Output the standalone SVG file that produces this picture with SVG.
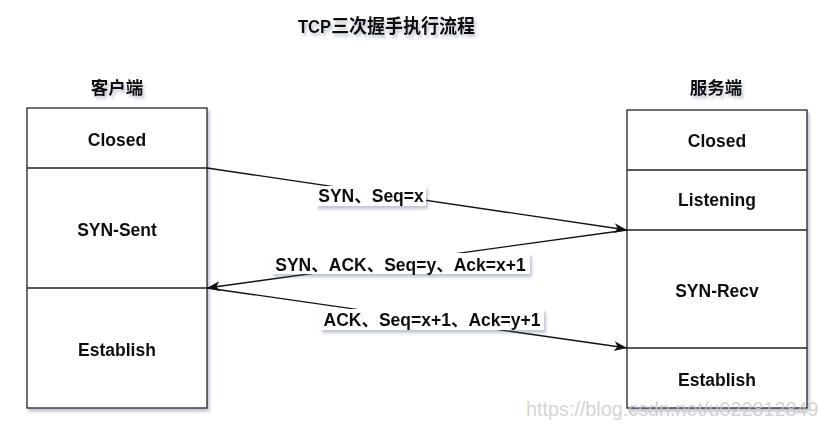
<svg xmlns="http://www.w3.org/2000/svg" width="836" height="427" viewBox="0 0 836 427">
<defs>
<style>
.t{font-family:"Liberation Sans","Noto Sans CJK SC",sans-serif;font-weight:bold;font-size:17.5px;fill:#111;text-anchor:middle}
.box{fill:#fff;stroke:#222;stroke-width:1.3}
.div{stroke:#222;stroke-width:1.3;fill:none}
.edge{stroke:#111;stroke-width:1.3;fill:none;marker-end:url(#arr)}
.lbl{fill:#fff}
.wm{font-family:"Liberation Sans",sans-serif;font-size:19.8px;fill:#c8c8c8;fill-opacity:0.8}
</style>
<filter id="sh" x="-10%" y="-10%" width="130%" height="140%">
<feDropShadow dx="2" dy="3" stdDeviation="1.6" flood-color="#4a5a80" flood-opacity="0.35"/>
</filter>
<marker id="arr" markerUnits="userSpaceOnUse" markerWidth="14" markerHeight="12" refX="13" refY="5" orient="auto">
<path d="M0,0 L13,5 L0,10 L3.5,5 Z" fill="#111"/>
</marker>
</defs>
<rect width="836" height="427" fill="#fff"/>
<g id="title" filter="url(#sh)">
<text class="t" x="386.5" y="33" textLength="177" lengthAdjust="spacingAndGlyphs"><tspan>TCP</tspan><tspan font-size="19">三次握手执行流程</tspan></text>
</g>
<g id="client" filter="url(#sh)">
<text class="t" x="117" y="94">客户端</text>
<rect class="box" x="27" y="108" width="180" height="300"/>
<line class="div" x1="27" y1="168" x2="207" y2="168"/>
<line class="div" x1="27" y1="288" x2="207" y2="288"/>
<text class="t" x="117" y="146">Closed</text>
<text class="t" x="117" y="236">SYN-Sent</text>
<text class="t" x="117" y="356">Establish</text>
</g>
<g id="server" filter="url(#sh)">
<text class="t" x="716" y="94">服务端</text>
<rect class="box" x="627" y="110" width="180" height="298"/>
<line class="div" x1="627" y1="170" x2="807" y2="170"/>
<line class="div" x1="627" y1="230" x2="807" y2="230"/>
<line class="div" x1="627" y1="348" x2="807" y2="348"/>
<text class="t" x="717" y="147">Closed</text>
<text class="t" x="717" y="206">Listening</text>
<text class="t" x="717" y="297">SYN-Recv</text>
<text class="t" x="717" y="386">Establish</text>
</g>
<g id="connectors">
<line class="edge" x1="207" y1="168" x2="627" y2="230"/>
<line class="edge" x1="627" y1="230" x2="207" y2="288"/>
<line class="edge" x1="207" y1="288" x2="627" y2="348"/>
<g filter="url(#sh)">
<rect class="lbl" x="316" y="186" width="110" height="20"/>
<text class="t" x="371" y="202">SYN、Seq=x</text>
<rect class="lbl" x="271" y="253" width="259" height="21"/>
<text class="t" x="400.5" y="271">SYN、ACK、Seq=y、Ack=x+1</text>
<rect class="lbl" x="320" y="309" width="224" height="21"/>
<text class="t" x="432" y="326">ACK、Seq=x+1、Ack=y+1</text>
</g>
</g>
<text class="wm" x="526" y="416">https://blog.csdn.net/u022812849</text>
</svg>
